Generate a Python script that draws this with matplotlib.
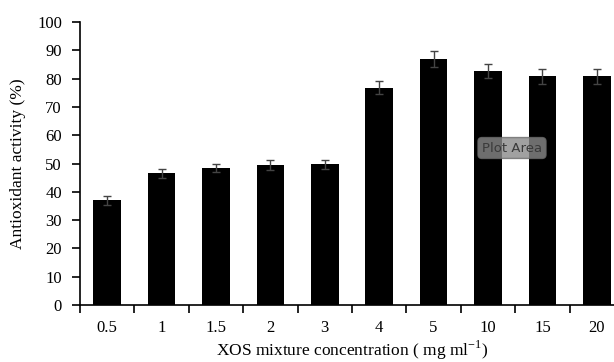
import numpy as np
import matplotlib
matplotlib.use("Agg")
import matplotlib.pyplot as plt

# data
categories = ["0.5", "1", "1.5", "2", "3", "4", "5", "10", "15", "20"]
activity = [37.0, 46.5, 48.5, 49.5, 49.7, 76.8, 86.9, 82.8, 80.8, 80.8]
errors = [1.5, 1.5, 1.5, 1.7, 1.5, 2.3, 2.7, 2.5, 2.7, 2.7]

plt.rcParams["font.family"] = ["Liberation Serif", "DejaVu Serif"]

fig = plt.figure(figsize=(6.14, 3.62), dpi=100)
# axes run slightly past the right edge, as in the cropped screenshot
ax = fig.add_axes([80 / 614, 57 / 362, 544 / 614, 283 / 362])

x = np.arange(len(categories))
ax.bar(x, activity, width=0.51, color="black", yerr=errors,
       error_kw=dict(ecolor="#444444", elinewidth=1.0, capsize=3, capthick=1.0))

ax.set_xlim(-0.5, len(categories) - 0.5)
ax.set_ylim(0, 100)
ax.set_yticks(np.arange(0, 101, 10))

ax.set_xticks(x)
ax.set_xticklabels(categories)
ax.set_xticks(np.arange(-0.5, len(categories), 1), minor=True)
ax.tick_params(axis="x", which="major", length=0, pad=11, labelsize=12)
ax.tick_params(axis="x", which="minor", length=6, width=1.2, direction="out")
ax.tick_params(axis="y", length=6, width=1.2, direction="out", labelsize=12, pad=7)

for s in ("top", "right"):
    ax.spines[s].set_visible(False)
ax.spines["left"].set_linewidth(1.2)
ax.spines["bottom"].set_linewidth(1.2)

ax.set_ylabel("Antioxidant activity (%)", fontsize=12.5, labelpad=8)
ax.set_xlabel("XOS mixture concentration ( mg ml$^{\\mathregular{-1}}$)", fontsize=12.5)
ax.xaxis.set_label_coords(272 / 544, -34 / 283)

# Excel hover tooltip present in the screenshot
fig.text(512 / 614, 1 - 148 / 362, "Plot Area", ha="center", va="center",
         fontsize=9.5, family="DejaVu Sans", color="#3a3a3a",
         bbox=dict(boxstyle="round,pad=0.3", fc="#8a8a8a", ec="#6a6a6a", alpha=0.8))

fig.savefig("out.png", dpi=100)
